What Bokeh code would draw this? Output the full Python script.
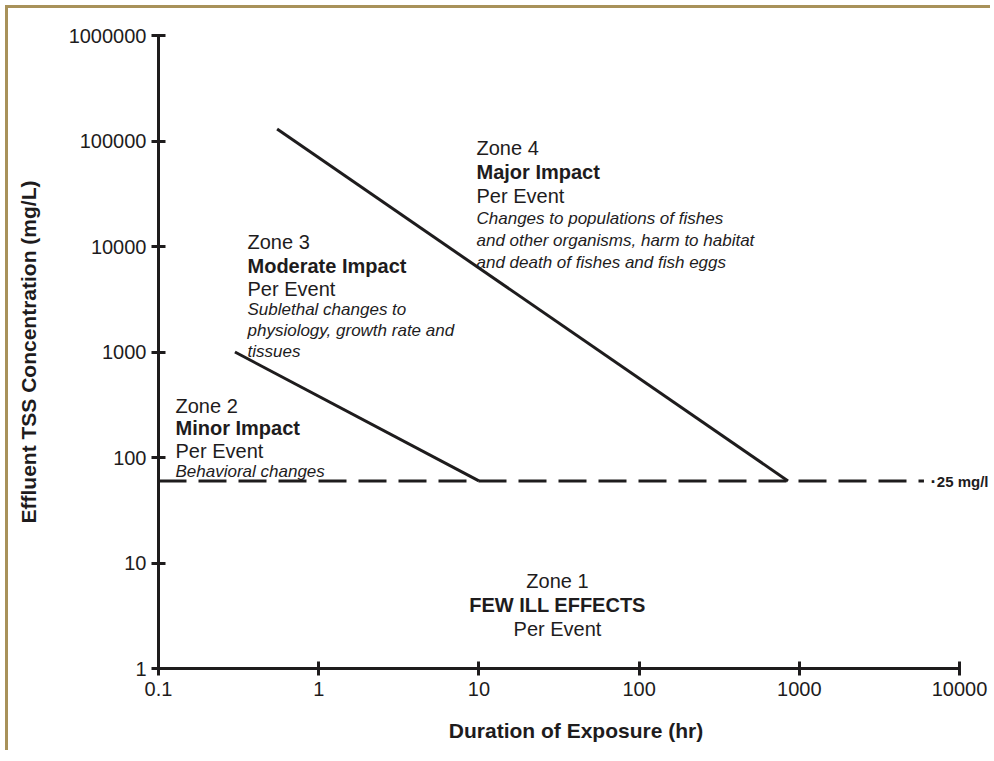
from bokeh.plotting import figure
from bokeh.models import Label, FixedTicker, InlineStyleSheet
from bokeh.embed import file_html
from bokeh.resources import INLINE

# ---- data ----
x_ticks = [0.1, 1, 10, 100, 1000, 10000]
y_ticks = [1, 10, 100, 1000, 10000, 100000, 1000000]
# Zone 2/3 boundary (hr, mg/L)
minor_x = [0.3, 10]
minor_y = [1000, 60]
# Zone 3/4 boundary
major_x = [0.55, 850]
major_y = [130000, 60]
# 25 mg/l threshold dashed line
thresh_x = [0.1, 6000]
thresh_y = [60, 60]

INK = "#1e1c1d"
FONT = "Liberation Sans"
X_END = 10 ** (4 + (993 - 959) / 160.2)   # frame extends a little past the last tick

p = figure(width=985, height=745, x_axis_type="log", y_axis_type="log",
           x_range=(0.1, X_END), y_range=(1, 1000000),
           output_backend="svg", toolbar_location=None,
           min_border_left=150, min_border_right=0,
           min_border_top=27, min_border_bottom=85)
p.stylesheets = [InlineStyleSheet(css=":host { margin-top: 5px; margin-left: 5px; "
                                      "border-top: 3px solid #a8925a; border-left: 3px solid #a8925a; }")]
p.outline_line_color = None
p.grid.visible = False
p.background_fill_color = "white"
p.border_fill_color = "white"

for ax in (p.xaxis[0], p.yaxis[0]):
    ax.axis_line_width = 3
    ax.axis_line_color = INK
    ax.major_tick_line_width = 3
    ax.major_tick_line_color = INK
    ax.major_tick_in = 7
    ax.major_tick_out = 7
    ax.minor_tick_line_color = None
    ax.major_label_text_font = FONT
    ax.major_label_text_font_size = "20px"
    ax.major_label_text_color = INK
    ax.axis_label_text_font = FONT
    ax.axis_label_text_font_size = "21px"
    ax.axis_label_text_font_style = "bold"
    ax.axis_label_text_color = INK

p.xaxis.bounds = (0.1, 10000)
p.xaxis.ticker = FixedTicker(ticks=x_ticks)
p.yaxis.ticker = FixedTicker(ticks=y_ticks)
p.xaxis.major_label_overrides = {t: ("%g" % t) for t in x_ticks}
p.yaxis.major_label_overrides = {t: str(int(t)) for t in y_ticks}
p.xaxis.axis_label = "Duration of Exposure (hr)"
p.yaxis.axis_label = "Effluent TSS Concentration (mg/L)"
p.xaxis.major_label_standoff = 6
p.yaxis.major_label_standoff = 5
p.xaxis.axis_label_standoff = 20
p.yaxis.axis_label_standoff = 26

p.line(minor_x, minor_y, line_width=3, line_color=INK)
p.line(major_x, major_y, line_width=3, line_color=INK)
p.line(thresh_x, thresh_y, line_width=3, line_color=INK, line_dash="28 12")


# helper for placing annotation text: reference pixel -> data coordinates
def px2x(px):
    return 10 ** (-1 + 5 * (px - 158) / (959 - 158))


def py2y(py):
    return 10 ** (6 * (668 - py) / (668 - 34.5))


def lab(text, px, py, size="20px", style="normal", align="left"):
    p.add_layout(Label(x=px2x(px), y=py2y(py), text=text, text_font=FONT,
                       text_font_size=size, text_font_style=style,
                       text_color=INK, text_align=align, text_baseline="middle"))


IT = "17px"
# Zone 4
lab("Zone 4", 476, 147)
lab("Major Impact", 476, 171, style="bold")
lab("Per Event", 476, 195)
lab("Changes to populations of fishes", 476, 218, size=IT, style="italic")
lab("and other organisms, harm to habitat", 476, 240, size=IT, style="italic")
lab("and death of fishes and fish eggs", 476, 262, size=IT, style="italic")
# Zone 3
lab("Zone 3", 247, 241)
lab("Moderate Impact", 247, 265, style="bold")
lab("Per Event", 247, 288)
lab("Sublethal changes to", 247, 309, size=IT, style="italic")
lab("physiology, growth rate and", 247, 330, size=IT, style="italic")
lab("tissues", 247, 351, size=IT, style="italic")
# Zone 2
lab("Zone 2", 175, 405)
lab("Minor Impact", 175, 427, style="bold")
lab("Per Event", 175, 450)
lab("Behavioral changes", 175, 471, size=IT, style="italic")
# Zone 1
lab("Zone 1", 557, 580, align="center")
lab("FEW ILL EFFECTS", 557, 604, style="bold", align="center")
lab("Per Event", 557, 628, align="center")
# threshold label
lab("\u00b7", 930, 481, size="18px", style="bold")
lab("25 mg/l", 988, 481, size="15px", style="bold", align="right")

open("out.html", "w").write(file_html(p, INLINE))
